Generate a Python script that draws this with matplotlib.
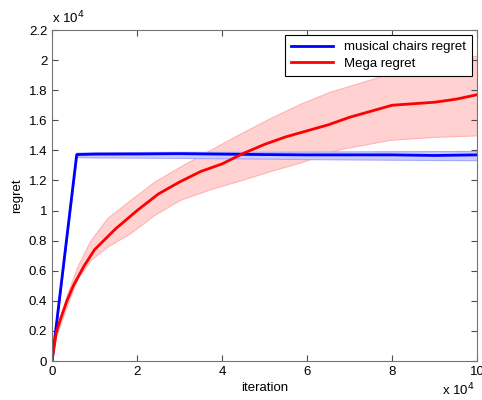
import numpy as np
import matplotlib.pyplot as plt

plt.rcParams['font.family'] = ['Liberation Sans', 'DejaVu Sans']

# iterations and regret, both in units of 1e4
mc_x = [0, 0.58, 1, 2, 3, 4, 5, 6, 7, 8, 9, 10]
mc_mean = [0, 1.372, 1.375, 1.376, 1.378, 1.375, 1.372, 1.370, 1.370, 1.370, 1.366, 1.370]
mc_lo = [0, 1.355, 1.353, 1.352, 1.350, 1.348, 1.345, 1.342, 1.340, 1.338, 1.336, 1.335]
mc_hi = [0, 1.385, 1.387, 1.389, 1.390, 1.390, 1.391, 1.392, 1.393, 1.394, 1.395, 1.396]

mega_x = [0, 0.05, 0.1, 0.2, 0.35, 0.5, 0.75, 1, 1.5, 2, 2.5, 3, 3.5, 4, 4.5,
          5, 5.5, 6, 6.5, 7, 7.5, 8, 8.5, 9, 9.5, 10]
mega_mean = [0, 0.10, 0.19, 0.28, 0.40, 0.50, 0.63, 0.74, 0.88, 1.00, 1.11, 1.19, 1.26,
             1.31, 1.38, 1.44, 1.49, 1.53, 1.57, 1.62, 1.66, 1.70, 1.71, 1.72, 1.74, 1.77]

hi_x = [0, 0.1, 0.35, 0.6, 0.9, 1.3, 1.84, 2.4, 3.0, 3.7, 4.42, 5.1, 5.84, 6.54, 7.6, 8.5, 10]
mega_hi = [0, 0.21, 0.44, 0.63, 0.80, 0.95, 1.07, 1.19, 1.29, 1.40, 1.51, 1.61, 1.71,
           1.79, 1.88, 1.97, 2.03]
lo_x = [0, 0.1, 0.35, 0.6, 0.9, 1.3, 1.84, 2.4, 3.0, 3.7, 4.42, 5.1, 5.84, 6.8, 7.95, 9, 10]
mega_lo = [0, 0.17, 0.37, 0.55, 0.67, 0.76, 0.85, 0.97, 1.07, 1.14, 1.20, 1.26, 1.32,
           1.41, 1.47, 1.49, 1.50]

scale = 1e4
fig = plt.figure(figsize=(4.82, 4.0), dpi=100)
ax = fig.add_axes([0.108, 0.0975, 0.882, 0.8275])

# shaded spread around the Mega curve (upper and lower edges on their own grids)
grid = np.union1d(hi_x, lo_x)
band_hi = np.interp(grid, hi_x, mega_hi)
band_lo = np.interp(grid, lo_x, mega_lo)
ax.fill_between(grid * scale, band_lo * scale, band_hi * scale,
                facecolor=(1, 0.82, 0.82), edgecolor=(1, 0.7, 0.7), linewidth=0.8)
ax.fill_between(np.array(mc_x) * scale, np.array(mc_lo) * scale, np.array(mc_hi) * scale,
                facecolor=(0.8, 0.8, 1), edgecolor=(0.65, 0.65, 1), linewidth=0.8)
ax.plot(np.array(mc_x) * scale, np.array(mc_mean) * scale, color='b', lw=2,
        label='musical chairs regret')
ax.plot(np.array(mega_x) * scale, np.array(mega_mean) * scale, color='r', lw=2,
        label='Mega regret')

ax.set_xlim(0, 10 * scale)
ax.set_ylim(0, 2.2 * scale)
xt = np.arange(0, 11, 2)
yt = np.round(np.arange(0, 2.21, 0.2), 1)
ax.set_xticks(xt * scale)
ax.set_xticklabels([f'{v:g}' for v in xt])
ax.set_yticks(yt * scale)
ax.set_yticklabels([f'{v:g}' for v in yt])
ax.tick_params(direction='in', top=True, right=True, length=4, labelsize=9.5,
               color='0.3')
for s in ax.spines.values():
    s.set_color('0.45')

ax.set_xlabel('iteration', fontsize=9.5, labelpad=3)
ax.set_ylabel('regret', fontsize=9.5, labelpad=4)

fig.text(0.108, 0.935, r'x 10$^{4}$', fontsize=9.5, ha='left', va='bottom')
fig.text(0.985, 0.005, r'x 10$^{4}$', fontsize=9.5, ha='right', va='bottom')

leg = ax.legend(loc='upper right', fontsize=9.5, fancybox=False, framealpha=1,
                borderaxespad=0.4, handlelength=3.2, borderpad=0.45, labelspacing=0.3)
leg.get_frame().set_edgecolor('k')
leg.get_frame().set_linewidth(0.8)

fig.savefig('out.png', dpi=100)
